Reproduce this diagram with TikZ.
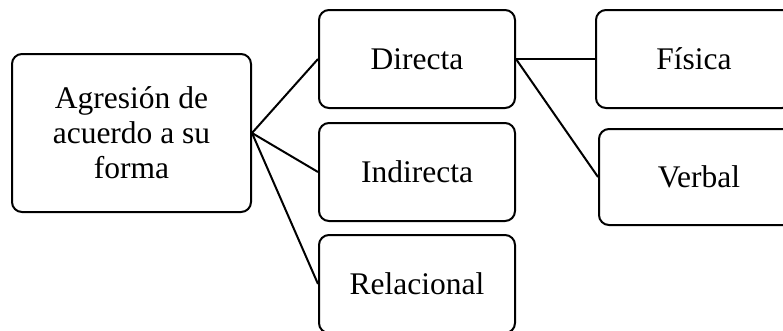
\documentclass[tikz,border=0pt]{standalone}
\usepackage{fontspec}
\setmainfont{Liberation Serif}
\begin{document}
\begin{tikzpicture}[x=1pt,y=-1pt,
  box/.style={draw=black, line width=2pt, rounded corners=10pt, fill=white, align=center,
    font=\fontsize{31.5}{35}\selectfont, inner sep=0pt, anchor=north west},
  link/.style={draw=black, line width=2pt}]
\useasboundingbox (0,0) rectangle (783,330);
\clip (0,0) rectangle (783,330);
\node[box, minimum width=239pt, minimum height=158pt] (root) at (11,53) {Agresión de\\acuerdo a su\\forma};
\node[box, minimum width=196pt, minimum height=98pt] (dir) at (318,9) {Directa};
\node[box, minimum width=196pt, minimum height=98pt] (ind) at (318,122) {Indirecta};
\node[box, minimum width=196pt, minimum height=98pt] (rel) at (318,234) {Relacional};
\node[box, minimum width=196pt, minimum height=98pt] (fis) at (595,9) {Física};
\node[box, minimum width=200pt, minimum height=96pt] (ver) at (598,128) {Verbal};
\draw[link] (root.east) -- (dir.west);
\draw[link] (root.east) -- (ind.west);
\draw[link] (root.east) -- (rel.west);
\draw[link] (dir.east) -- (fis.west);
\draw[link] (dir.east) -- (ver.west);
\end{tikzpicture}
\end{document}
